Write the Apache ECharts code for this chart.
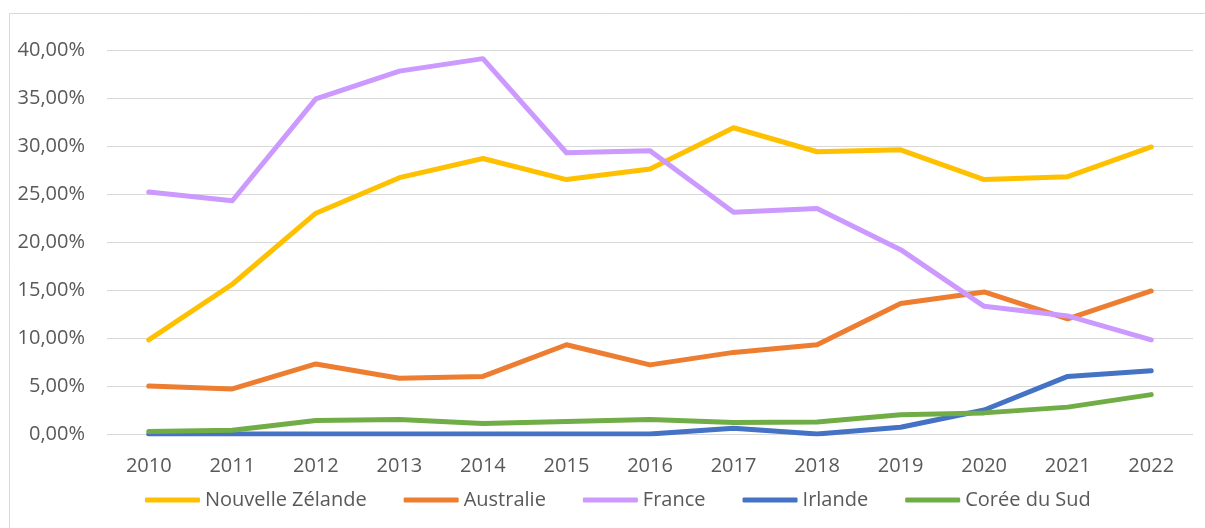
<!DOCTYPE html>
<html>
<head>
<meta charset="utf-8">
<script src="https://cdn.jsdelivr.net/npm/echarts@6/dist/echarts.min.js"></script>
<style>
html,body{margin:0;padding:0;background:#fff;}
#chart{width:1205px;height:528px;}
</style>
</head>
<body>
<div id="chart"></div>
<script>
const years = ['2010','2011','2012','2013','2014','2015','2016','2017','2018','2019','2020','2021','2022'];
const nouvelleZelande = [9.8, 15.6, 23.0, 26.7, 28.7, 26.5, 27.6, 31.9, 29.4, 29.6, 26.5, 26.8, 29.9];
const australie = [5.0, 4.7, 7.3, 5.8, 6.0, 9.3, 7.2, 8.5, 9.3, 13.6, 14.8, 12.0, 14.9];
const france = [25.2, 24.3, 34.9, 37.8, 39.1, 29.3, 29.5, 23.1, 23.5, 19.2, 13.3, 12.3, 9.8];
const irlande = [0, 0, 0, 0, 0, 0, 0, 0.6, 0, 0.7, 2.5, 6.0, 6.6];
const coreeDuSud = [0.25, 0.4, 1.4, 1.5, 1.1, 1.3, 1.5, 1.2, 1.25, 2.0, 2.2, 2.8, 4.1];
const seriesNames = ['Nouvelle Zélande','Australie','France','Irlande','Corée du Sud'];
const seriesColors = ['#FFC000','#ED7D31','#CC99FF','#4472C4','#70AD47'];
const seriesData = [nouvelleZelande, australie, france, irlande, coreeDuSud];

const chart = echarts.init(document.getElementById('chart'), null, {renderer:'canvas'});
const font = "'Open Sans', 'DejaVu Sans', sans-serif";
chart.setOption({
  backgroundColor:'#fff',
  animation:false,
  graphic:[{
    type:'rect', silent:true, z:-10,
    shape:{x:9.5, y:13.5, width:1300, height:600},
    style:{fill:'none', stroke:'#D9D9D9', lineWidth:1}
  }],
  grid:{left:107, right:12, top:50, bottom:94, containLabel:false},
  legend:{
    left:140, top:485,
    itemWidth:55, itemHeight:5, itemGap:37,
    icon:'roundRect',
    textStyle:{color:'#595959', fontSize:20, fontFamily:font, padding:[0,0,0,0]},
    data:seriesNames
  },
  xAxis:{
    type:'category', data:years, boundaryGap:true,
    axisLine:{show:false}, axisTick:{show:false},
    axisLabel:{color:'#595959', fontSize:20, fontFamily:font, margin:22}
  },
  yAxis:{
    type:'value', min:0, max:40, interval:5,
    axisLine:{show:false}, axisTick:{show:false},
    splitLine:{lineStyle:{color:'#D9D9D9', width:1}},
    axisLabel:{color:'#595959', fontSize:20, fontFamily:font, margin:22,
      formatter:v=>v.toFixed(2).replace('.',',')+'%'}
  },
  series: seriesNames.map((n,i)=>({
    name:n, type:'line', data:seriesData[i], symbol:'none', showSymbol:false,
    color:seriesColors[i],
    lineStyle:{width:5, color:seriesColors[i], cap:'round', join:'round'}
  }))
});
</script>
</body>
</html>
